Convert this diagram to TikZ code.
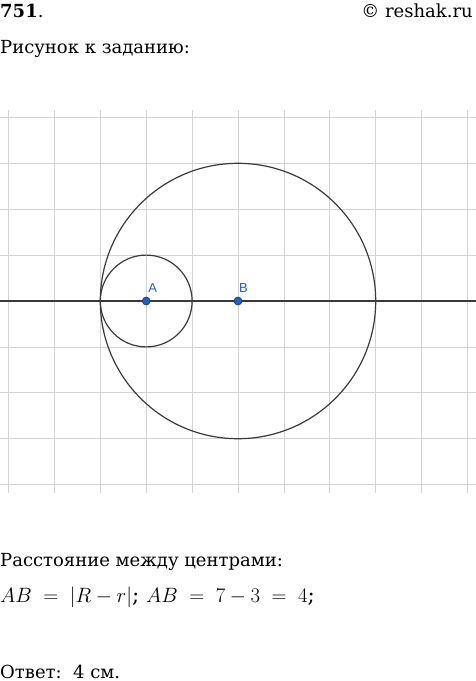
\documentclass[tikz,border=0pt]{standalone}
\usepackage{fontspec}
\setmainfont{DejaVu Serif}
\newfontfamily\labelfont{Liberation Sans}
\usepackage{tikz}
\usetikzlibrary{calc}
\definecolor{gridgray}{HTML}{D4D4D8}
\definecolor{ptblue}{HTML}{1F5FC4}
\definecolor{linegray}{HTML}{3A3A3A}

\tikzset{
    txt/.style={anchor=base west, inner sep=0pt, font=\fontsize{18}{20}\selectfont},
    pt/.style={circle, fill=ptblue, draw=ptblue!60!black, line width=0.6pt, inner sep=0pt, minimum size=8pt},
    ptlabel/.style={text=ptblue, inner sep=0pt, font=\labelfont\fontsize{13}{14}\selectfont}
}

\begin{document}
\begin{tikzpicture}[x=1pt,y=-1pt]
    \useasboundingbox (0,0) rectangle (476,681);

    % header
    \node[txt] (num) at (0,17) {\textbf{751}.};
    \node[txt, anchor=base east] (site) at (473,17) {© reshak.ru};
    \node[txt] (task) at (0,53) {Рисунок к заданию:};

    % grid, one cell = 45.9
    \foreach \i in {-5,...,5}
        \draw[gridgray, line width=0.8pt] (238+45.9*\i,110) -- (238+45.9*\i,493);
    \foreach \j in {-4,...,4}
        \draw[gridgray, line width=0.8pt] (0,301+45.9*\j) -- (476,301+45.9*\j);

    % axis
    \coordinate (west) at (0,301);
    \coordinate (east) at (476,301);
    \draw[linegray, line width=1.3pt] (west) -- (east);

    % circles
    \coordinate (A) at (238-2*45.9,301);
    \coordinate (B) at (238,301);
    \draw[linegray, line width=1.2pt] (B) circle (3*45.9);
    \draw[linegray, line width=1.2pt] (A) circle (45.9);
    \node[pt] (ptA) at (A) {};
    \node[pt] (ptB) at (B) {};
    \node[ptlabel, anchor=south west] (labA) at ($(A)+(2,-8)$) {A};
    \node[ptlabel, anchor=south west] (labB) at ($(B)+(1,-8)$) {B};

    % solution
    \node[txt] (dist) at (0,566) {Расстояние между центрами:};
    \node[txt, font=\fontsize{21.5}{24}\selectfont] (calc) at (0,602)
        {$AB\;=\;|R-r|$; $AB\;=\;7-3\;=\;4$;};
    \node[txt] (ans) at (0,678) {Ответ:~~4 см.};
\end{tikzpicture}
\end{document}
